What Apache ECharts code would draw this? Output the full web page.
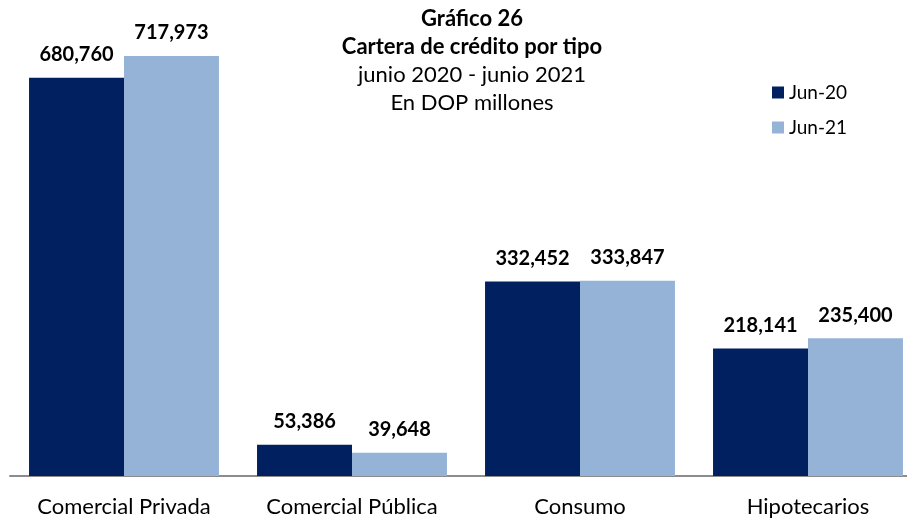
<!DOCTYPE html>
<html>
<head>
<meta charset="utf-8">
<script src="https://cdn.jsdelivr.net/npm/echarts@6/dist/echarts.min.js"></script>
<style>
  html, body { margin: 0; padding: 0; background: #fff; }
  #chart { width: 907px; height: 520px; }
</style>
</head>
<body>
<div id="chart"></div>
<script>
const categories = ["Comercial Privada", "Comercial Pública", "Consumo", "Hipotecarios"];
const jun20 = [680760, 53386, 332452, 218141];
const jun21 = [717973, 39648, 333847, 235400];
const seriesNames = ["Jun-20", "Jun-21"];

const fontFamily = "Lato, 'Open Sans', sans-serif";

const myChart = echarts.init(document.getElementById("chart"));

const barLabel = {
  show: true,
  position: "top",
  distance: 13,
  color: "#000",
  fontWeight: "bold",
  fontSize: 20,
  fontFamily: fontFamily,
  formatter: function (p) {
    return p.value.toLocaleString("en-US");
  },
};

const option = {
  animation: false,
  title: {
    text: "Gráfico 26\nCartera de crédito por tipo",
    subtext: "junio 2020 - junio 2021\nEn DOP millones",
    left: 467,
    top: 0,
    textAlign: "center",
    itemGap: 0,
    textStyle: {
      color: "#000",
      fontWeight: "bold",
      fontSize: 22,
      lineHeight: 28,
      fontFamily: fontFamily,
    },
    subtextStyle: {
      color: "#000",
      fontSize: 22,
      lineHeight: 28,
      fontFamily: fontFamily,
    },
  },
  legend: {
    data: seriesNames,
    orient: "vertical",
    left: 767,
    top: 78,
    itemWidth: 12,
    itemHeight: 12,
    itemGap: 16,
    icon: "rect",
    textStyle: {
      color: "#000",
      fontSize: 19,
      fontFamily: fontFamily,
    },
  },
  grid: {
    left: 10,
    width: 912,
    top: 8,
    bottom: 44,
    containLabel: false,
    outerBoundsMode: "none",
  },
  xAxis: {
    type: "category",
    data: categories,
    axisTick: { show: false },
    axisLine: {
      lineStyle: { color: "#8c8c8c", width: 2 },
    },
    axisLabel: {
      interval: 0,
      color: "#000",
      fontSize: 22,
      margin: 20,
      fontFamily: fontFamily,
    },
  },
  yAxis: {
    type: "value",
    min: 0,
    max: 800000,
    show: false,
    splitLine: { show: false },
  },
  series: [
    {
      name: seriesNames[0],
      type: "bar",
      data: jun20,
      barGap: "0%",
      barCategoryGap: "16.7%",
      itemStyle: { color: "#002060" },
      label: barLabel,
    },
    {
      name: seriesNames[1],
      type: "bar",
      data: jun21,
      itemStyle: { color: "#95b3d7" },
      label: barLabel,
    },
  ],
};

myChart.setOption(option);
</script>
</body>
</html>
